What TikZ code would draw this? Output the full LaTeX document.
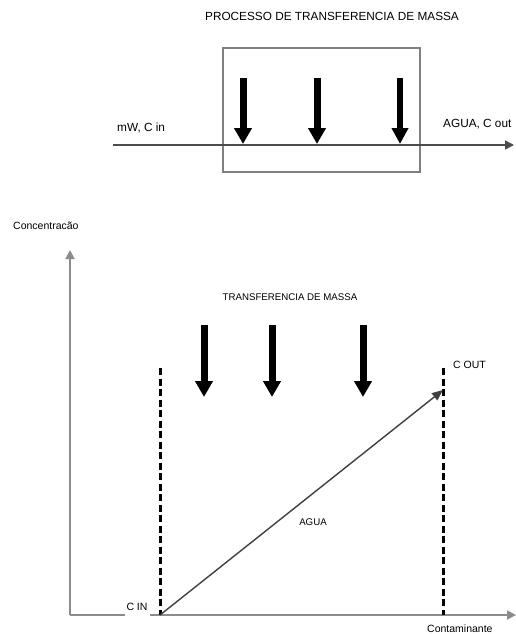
\documentclass[tikz,border=0pt]{standalone}
\usepackage{fontspec}
\setmainfont{Liberation Sans}
\usetikzlibrary{arrows.meta}
\begin{document}
\begin{tikzpicture}[x=1pt,y=-1pt,
  lbl/.style={font=\fontsize{10.5}{12}\selectfont, inner sep=0pt},
  biglbl/.style={font=\fontsize{11.8}{13}\selectfont, inner sep=0pt},
  smalllbl/.style={font=\fontsize{9.7}{11}\selectfont, inner sep=0pt},
  flux/.style={line width=7pt, -{Triangle[width=17pt,length=16pt]}},
  fluxthin/.style={line width=5.5pt, -{Triangle[width=16pt,length=16pt]}},
  stream/.style={draw=black!70, line width=1.6pt, -{Triangle[width=9pt,length=9pt]}},
  axis/.style={draw=black!45, line width=1.8pt, -{Triangle[width=9pt,length=9pt]}},
  limit/.style={line width=3pt, dash pattern=on 7pt off 3.5pt},
  profile/.style={draw=black!75, line width=1.4pt, -{Triangle[width=9pt,length=11pt]}}
]
\useasboundingbox (0,0) rectangle (515,634);
\fill[white] (0,0) rectangle (515,634);

% ---- mass transfer process ----
\node[biglbl] (title) at (332,16) {PROCESSO DE TRANSFERENCIA DE MASSA};
\node[draw=black!50, line width=2pt, minimum width=197pt, minimum height=124pt,
      inner sep=0pt] (proc) at (321.5,110) {};
\coordinate (inL) at (113,145);
\coordinate (outR) at (514,145);
\draw[stream] (inL) -- (outR);
\node[biglbl, anchor=base west] (inlab) at (117,131) {mW, C in};
\node[biglbl, anchor=base west] (outlab) at (443,127) {AGUA, C out};

\coordinate (t1) at (243,78);  \coordinate (b1) at (243,144);
\coordinate (t2) at (317,78);  \coordinate (b2) at (317,144);
\coordinate (t3) at (400,78);  \coordinate (b3) at (400,144);
\draw[flux] (t1) -- (b1);
\draw[flux] (t2) -- (b2);
\draw[fluxthin] (t3) -- (b3);

% ---- concentration profile ----
\node[lbl, anchor=base west] (ylab) at (13,229) {Concentracão};
\coordinate (origin) at (70,615);
\coordinate (ytop) at (70,250);
\coordinate (xend) at (516,615);
\draw[axis] (origin) -- (ytop);
\draw[axis] (origin) -- (xend);

\node[smalllbl] (tm) at (290,297) {TRANSFERENCIA DE MASSA};
\coordinate (u1) at (204,325); \coordinate (v1) at (204,397);
\coordinate (u2) at (272,325); \coordinate (v2) at (272,397);
\coordinate (u3) at (363,325); \coordinate (v3) at (363,397);
\draw[flux] (u1) -- (v1);
\draw[flux] (u2) -- (v2);
\draw[flux] (u3) -- (v3);

\coordinate (inTop) at (160,368);
\coordinate (inBot) at (160,615);
\coordinate (outTop) at (443,368);
\coordinate (outBot) at (443,615);
\draw[limit] (inTop) -- (inBot);
\draw[limit] (outTop) -- (outBot);

\node[lbl, fill=white, minimum width=25pt, minimum height=20pt] (cin) at (137,607) {C IN};
\node[lbl, anchor=base west] (cout) at (453,368) {C OUT};
\draw[profile] (inBot) -- (outTop |- 0,390);
\node[smalllbl] (agua) at (313,522) {AGUA};
\node[lbl, anchor=base west] (xlab) at (427,632) {Contaminante};
\end{tikzpicture}
\end{document}
